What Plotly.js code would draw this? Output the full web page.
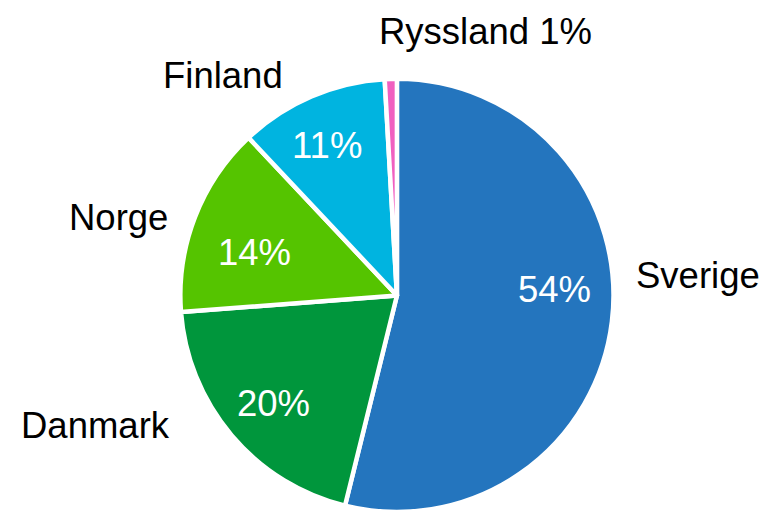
<!DOCTYPE html>
<html>
<head>
<meta charset="utf-8">
<script src="https://cdn.plot.ly/plotly-3.0.1.min.js"></script>
<style>html,body{margin:0;padding:0;background:#fff;}#chart{width:767px;height:512px;}</style>
</head>
<body>
<div id="chart"></div>
<script>
const labels = ["Sverige", "Danmark", "Norge", "Finland", "Ryssland"];
const values = [53.8, 19.9, 14.2, 11.1, 0.9];
const colors = ["#2475BE", "#00963C", "#55C400", "#00B4E0", "#F060C0"];
// whether the percentage is written inside the slice or next to the name
const percentInside = [true, true, true, true, false];

const W = 767, H = 512;
const font = "Liberation Sans, Arial, sans-serif";
const FS = 36.5;

// label placement (layout only, pixel centres in the 767x512 frame)
const nameLayout = [[698, 275], [95, 425], [118, 217], [223, 75], [485, 31]];
const pctLayout = [[554, 289], [273, 403], [254, 252], [327, 145], null];

const total = values.reduce((a, b) => a + b, 0);
const pctText = values.map(v => Math.round(v / total * 100) + "%");

const pie = {
  type: "pie",
  labels: labels,
  values: values,
  sort: false,
  direction: "clockwise",
  rotation: 0,
  domain: {x: [0.235, 0.80], y: [0, 0.846]},
  marker: {colors: colors, line: {color: "#ffffff", width: 4.5}},
  textinfo: "none",
  hoverinfo: "skip",
  showlegend: false
};

const annotations = [];
labels.forEach((lab, i) => {
  const nameTxt = percentInside[i] ? lab : lab + " " + pctText[i];
  annotations.push({
    xref: "paper", yref: "paper",
    x: nameLayout[i][0] / W, y: 1 - nameLayout[i][1] / H,
    xanchor: "center", yanchor: "middle",
    text: nameTxt, showarrow: false,
    font: {family: font, size: FS, color: "#000000"}
  });
  if (percentInside[i]) {
    annotations.push({
      xref: "paper", yref: "paper",
      x: pctLayout[i][0] / W, y: 1 - pctLayout[i][1] / H,
      xanchor: "center", yanchor: "middle",
      text: pctText[i], showarrow: false,
      font: {family: font, size: FS, color: "#ffffff"}
    });
  }
});

const layout = {
  width: W, height: H,
  margin: {l: 0, r: 0, t: 0, b: 0},
  paper_bgcolor: "#ffffff",
  showlegend: false,
  annotations: annotations
};
Plotly.newPlot("chart", [pie], layout, {displayModeBar: false, staticPlot: true});
</script>
</body>
</html>
